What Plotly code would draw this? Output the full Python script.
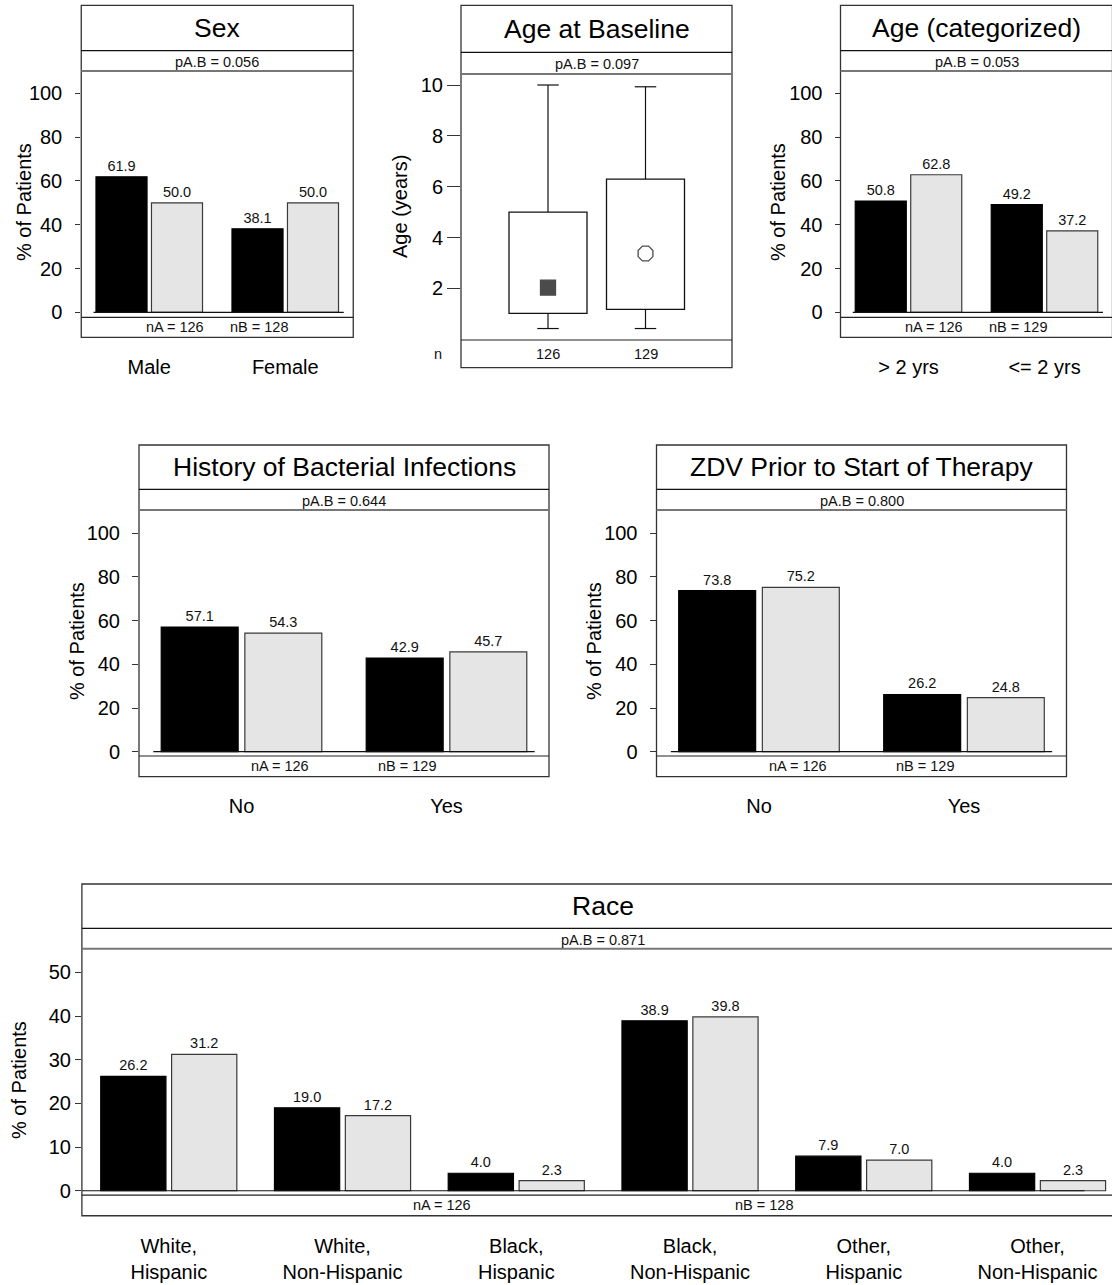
import plotly.graph_objects as go

# ---------------- data ----------------
sex_labels = ["Male", "Female"]
sex_pct_a = [61.9, 38.1]
sex_pct_b = [50.0, 50.0]
sex_p = 0.056
sex_n = [126, 128]

age_n = [126, 129]
age_q1 = [1.02, 1.17]
age_q3 = [5.0, 6.3]
age_whisk_lo = [0.42, 0.42]
age_whisk_hi = [10.0, 9.93]
age_mean = [2.03, 3.37]
age_p = 0.097
age_ticks = [2, 4, 6, 8, 10]

agecat_labels = ["> 2 yrs", "<= 2 yrs"]
agecat_pct_a = [50.8, 49.2]
agecat_pct_b = [62.8, 37.2]
agecat_p = 0.053
agecat_n = [126, 129]

bact_labels = ["No", "Yes"]
bact_pct_a = [57.1, 42.9]
bact_pct_b = [54.3, 45.7]
bact_p = 0.644
bact_n = [126, 129]

zdv_labels = ["No", "Yes"]
zdv_pct_a = [73.8, 26.2]
zdv_pct_b = [75.2, 24.8]
zdv_p = 0.800
zdv_n = [126, 129]

race_labels = ["White,<br>Hispanic", "White,<br>Non-Hispanic", "Black,<br>Hispanic",
               "Black,<br>Non-Hispanic", "Other,<br>Hispanic", "Other,<br>Non-Hispanic"]
race_pct_a = [26.2, 19.0, 4.0, 38.9, 7.9, 4.0]
race_pct_b = [31.2, 17.2, 2.3, 39.8, 7.0, 2.3]
race_p = 0.871
race_n = [126, 128]

pct_ticks = [0, 20, 40, 60, 80, 100]
race_ticks = [0, 10, 20, 30, 40, 50]

# ---------------- styling ----------------
W, H = 1112, 1285
YS = 1.0055          # vertical layout scale
FONT = "Liberation Sans, Arial, Helvetica, sans-serif"
COL_A = "#000000"
COL_B = "#E5E5E5"
EDGE = "#333333"
SMALL = 14.5
MID = 20
BIG = 26.5


def px(x):
    return x / W


def py(y):
    return 1 - y * YS / H


fig = go.Figure()
shapes = []
annotations = []


def add_strips(g):
    left, right = g["left"], g["right"]
    shapes.append(dict(type="rect", xref="paper", yref="paper",
                       x0=px(left), x1=px(right), y0=py(g["bottom"]), y1=py(g["top"]),
                       line=dict(color=EDGE, width=1.3), fillcolor="rgba(0,0,0,0)", layer="above"))
    for yy, col, wd in [(g["title_b"], "#111111", 1.2), (g["p_b"], "#777777", 2.0),
                        (g["plot_b"], "#222222", 1.2)]:
        shapes.append(dict(type="line", xref="paper", yref="paper",
                           x0=px(left), x1=px(right), y0=py(yy), y1=py(yy),
                           line=dict(color=col, width=wd), layer="above"))


def add_panel_text(g, title, pval, ylabel):
    cx = (g["left"] + g["right"]) / 2
    annotations.append(dict(text=title, xref="paper", yref="paper", x=px(cx),
                            y=py((g["top"] + g["title_b"]) / 2), xanchor="center", yanchor="middle",
                            showarrow=False, font=dict(size=BIG, color="black")))
    annotations.append(dict(text="pA.B = %.3f" % pval, xref="paper", yref="paper", x=px(cx),
                            y=py((g["title_b"] + g["p_b"]) / 2 + 1), xanchor="center", yanchor="middle",
                            showarrow=False, font=dict(size=SMALL, color="#111111")))
    annotations.append(dict(text=ylabel, xref="paper", yref="paper", x=px(g["ylab_x"]),
                            y=py(g["ylab_y"]), xanchor="center", yanchor="middle", textangle=-90,
                            showarrow=False, font=dict(size=MID, color="black")))


def bar_panel(i, cats, pa, pb, pval, n, title, g, yticks, base_ext):
    sfx = "" if i == 1 else str(i)
    xa, ya = "x" + sfx, "y" + sfx
    ncat = len(cats)
    pitch = (g["right"] - g["left"]) / ncat
    dom_r = min(g["right"], W)
    x_rng = [-0.5, -0.5 + (dom_r - g["left"]) / pitch]
    y_rng = [-(g["plot_b"] - g["y0"]) / g["ppu"], (g["y0"] - g["p_b"]) / g["ppu"]]

    for vals, col, edge in [(pa, COL_A, "#000000"), (pb, COL_B, "#3a3a3a")]:
        fig.add_trace(go.Bar(x=cats, y=vals, xaxis=xa, yaxis=ya, showlegend=False,
                             marker=dict(color=col, line=dict(color=edge, width=1.2)),
                             texttemplate="%{y:.1f}", textposition="outside",
                             textfont=dict(size=SMALL, color="#111111"),
                             constraintext="none", cliponaxis=False, hoverinfo="x+y"))

    fig.layout["xaxis" + sfx] = dict(domain=[px(g["left"]), px(dom_r)], anchor=ya, type="category",
                                     categoryorder="array", categoryarray=cats,
                                     range=x_rng, showgrid=False, zeroline=False, showline=False,
                                     ticks="", tickfont=dict(size=MID, color="black"),
                                     ticklabelstandoff=g["xstand"], fixedrange=True)
    fig.layout["yaxis" + sfx] = dict(domain=[py(g["plot_b"]), py(g["p_b"])], anchor=xa,
                                     range=y_rng, tickvals=yticks, showgrid=False, zeroline=False,
                                     showline=False, ticks="outside", ticklen=g["tlen"],
                                     tickcolor=EDGE, tickwidth=1.2,
                                     tickfont=dict(size=MID, color="black"),
                                     ticklabelstandoff=g["ystand"], fixedrange=True)
    # zero reference line
    shapes.append(dict(type="line", xref=xa, yref=ya, x0=base_ext[0], x1=base_ext[1], y0=0, y1=0,
                       line=dict(color="#111111", width=1.2), layer="above"))
    # group sizes in the lower strip
    for frac, lab, val in [(0.345, "nA", n[0]), (0.654, "nB", n[1])]:
        annotations.append(dict(text="%s = %d" % (lab, val), xref=xa, yref="paper",
                                x=-0.5 + frac * ncat, y=py((g["plot_b"] + g["bottom"]) / 2),
                                xanchor="center", yanchor="middle", showarrow=False,
                                font=dict(size=SMALL, color="#111111")))
    add_strips(g)
    add_panel_text(g, title, pval, "% of Patients")


top = dict(top=5.3, title_b=50.7, p_b=71.0, plot_b=317.3, bottom=337.3, y0=312.3, ppu=2.19,
           ylab_y=202, xstand=36)
mid = dict(top=445.0, title_b=489.3, p_b=510.0, plot_b=756.0, bottom=776.7, y0=751.7, ppu=2.184,
           ylab_y=641, xstand=36)

g1 = dict(top, left=81.25, right=353.25, ylab_x=24, tlen=5, ystand=9)
g3 = dict(top, left=840.5, right=1112.5, ylab_x=778, tlen=5, ystand=8)
g4 = dict(mid, left=139.0, right=549.0, ylab_x=77, tlen=6, ystand=8)
g5 = dict(mid, left=656.5, right=1066.5, ylab_x=594, tlen=6, ystand=8)
g6 = dict(top=884.0, title_b=928.3, p_b=948.7, plot_b=1195.0, bottom=1215.7, y0=1190.7, ppu=4.368,
          left=81.9, right=1124.4, ylab_x=19, ylab_y=1080, tlen=6, ystand=0, xstand=37)

bar_panel(1, sex_labels, sex_pct_a, sex_pct_b, sex_p, sex_n, "Sex", g1, pct_ticks, [-0.41, 1.43])
bar_panel(3, agecat_labels, agecat_pct_a, agecat_pct_b, agecat_p, agecat_n, "Age (categorized)",
          g3, pct_ticks, [-0.41, 1.43])
bar_panel(4, bact_labels, bact_pct_a, bact_pct_b, bact_p, bact_n, "History of Bacterial Infections",
          g4, pct_ticks, [-0.43, 1.43])
bar_panel(5, zdv_labels, zdv_pct_a, zdv_pct_b, zdv_p, zdv_n, "ZDV Prior to Start of Therapy",
          g5, pct_ticks, [-0.43, 1.43])
bar_panel(6, race_labels, race_pct_a, race_pct_b, race_p, race_n, "Race", g6, race_ticks, [-0.5, 5.27])

# ---------------- age at baseline: box summary ----------------
g2 = dict(top=5.3, title_b=52.3, p_b=74.0, plot_b=340.0, bottom=367.7, y0=339.2, ppu=25.42,
          left=461.0, right=732.0, ylab_x=400, ylab_y=207)
centers_px = [548.0, 645.5]
pitch2 = centers_px[1] - centers_px[0]
pos = list(range(len(age_n)))
box_w = 0.8
cap_w = 0.22

fig.add_trace(go.Bar(x=pos, y=[q3 - q1 for q1, q3 in zip(age_q1, age_q3)], base=age_q1,
                     width=box_w, offset=-box_w / 2, xaxis="x2", yaxis="y2", showlegend=False,
                     marker=dict(color="white", line=dict(color="#111111", width=1.3)),
                     hoverinfo="skip"))
wx, wy = [], []
for k in pos:
    wx += [k, k, None, k, k, None, k - cap_w / 2, k + cap_w / 2, None, k - cap_w / 2, k + cap_w / 2, None]
    wy += [age_q3[k], age_whisk_hi[k], None, age_q1[k], age_whisk_lo[k], None,
           age_whisk_hi[k], age_whisk_hi[k], None, age_whisk_lo[k], age_whisk_lo[k], None]
fig.add_trace(go.Scatter(x=wx, y=wy, mode="lines", xaxis="x2", yaxis="y2", showlegend=False,
                         line=dict(color="#111111", width=1.2), hoverinfo="skip"))
fig.add_trace(go.Scatter(x=pos, y=age_mean, mode="markers", xaxis="x2", yaxis="y2", showlegend=False,
                         marker=dict(symbol=["square", "octagon"], size=[15, 16],
                                     color=["black", "white"],
                                     line=dict(color="black", width=1.3))))

fig.layout["xaxis2"] = dict(domain=[px(g2["left"]), px(g2["right"])], anchor="y2",
                            range=[(g2["left"] - centers_px[0]) / pitch2,
                                   (g2["right"] - centers_px[0]) / pitch2],
                            visible=False, fixedrange=True)
fig.layout["yaxis2"] = dict(domain=[py(g2["plot_b"]), py(g2["p_b"])], anchor="x2",
                            range=[-(g2["plot_b"] - g2["y0"]) / g2["ppu"], (g2["y0"] - g2["p_b"]) / g2["ppu"]],
                            tickvals=age_ticks, showgrid=False, zeroline=False, showline=False,
                            ticks="outside", ticklen=13, tickcolor=EDGE, tickwidth=1.2,
                            tickfont=dict(size=MID, color="black"), ticklabelstandoff=0,
                            fixedrange=True)
for k in pos:
    annotations.append(dict(text=str(age_n[k]), xref="x2", yref="paper", x=k,
                            y=py((g2["plot_b"] + g2["bottom"]) / 2), xanchor="center",
                            yanchor="middle", showarrow=False, font=dict(size=SMALL, color="#111111")))
annotations.append(dict(text="n", xref="paper", yref="paper", x=px(438),
                        y=py((g2["plot_b"] + g2["bottom"]) / 2), xanchor="center", yanchor="middle",
                        showarrow=False, font=dict(size=SMALL, color="#111111")))
add_strips(g2)
add_panel_text(g2, "Age at Baseline", age_p, "Age (years)")

fig.update_layout(width=W, height=H, margin=dict(l=0, r=0, t=0, b=0),
                  paper_bgcolor="white", plot_bgcolor="white",
                  font=dict(family=FONT, color="black"),
                  barmode="group", bargap=0.184, bargroupgap=0.08,
                  showlegend=False, shapes=shapes, annotations=annotations)

fig.write_html("out.html")
